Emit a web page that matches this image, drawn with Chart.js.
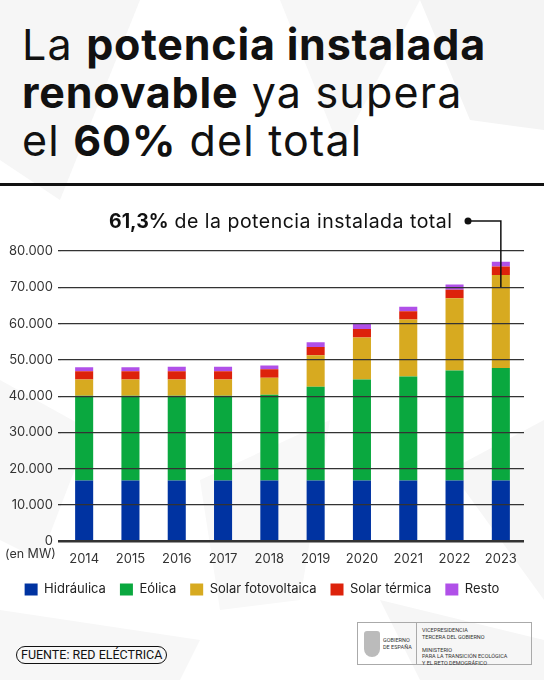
<!DOCTYPE html>
<html>
<head>
<meta charset="utf-8">
<script src="https://cdn.jsdelivr.net/npm/chart.js@4.4.1/dist/chart.umd.min.js"></script>
<style>
    body { margin: 0; width: 544px; height: 680px; overflow: hidden; background: #fff; position: relative;
           font-family: Inter, "Noto Sans", sans-serif; color: #111; }
    #bg { position: absolute; left: 0; top: 0; }
    #title { position: absolute; left: 22px; top: 20px; margin: 0; font-weight: 400; font-size: 43px;
             line-height: 48px; letter-spacing: 1.2px; color: #111; }
    #title b { font-weight: 700; letter-spacing: 0.8px; }
    #rule { position: absolute; left: 0; top: 183px; width: 544px; height: 3px; background: #111; }
    #wrap { position: absolute; left: 0; top: 0; width: 544px; height: 614px; }
    #note { position: absolute; left: 109px; top: 209px; font-size: 19.5px; letter-spacing: 0.5px; color: #111; white-space: nowrap; }
    #note b { font-weight: 700; letter-spacing: 0; }
    #unit { position: absolute; left: 5px; top: 546px; font-size: 12.5px; color: #333; }
    #src { position: absolute; left: 16px; top: 646px; border: 1.5px solid #111; border-radius: 10px;
           padding: 0 4px 0 4px; font-family: Roboto, sans-serif; font-size: 12.5px; line-height: 16px; color: #111; }
    #logo { position: absolute; left: 357px; top: 622px; width: 173px; height: 41px; border: 1px solid #aaa;
            font-family: Roboto, sans-serif; font-size: 5.5px; color: #333; line-height: 6.5px; }
    #logo .div { position: absolute; left: 58px; top: 0; width: 1px; height: 41px; background: #aaa; }
    #logo .gob { position: absolute; left: 25px; top: 14px; }
    #logo .min { position: absolute; left: 64px; top: 4px; }
    #logo .arms { position: absolute; left: 6px; top: 8px; width: 16px; height: 26px; border-radius: 3px 3px 8px 8px; background: #bbb; }
</style>
</head>
<body>
<svg id="bg" width="544" height="680">
    <polygon points="0,0 140,0 60,200 0,160" fill="#f6f6f6"/>
    <polygon points="280,0 420,0 340,150" fill="#f7f7f7"/>
    <polygon points="420,0 544,0 544,130 470,120" fill="#f4f4f4"/>
    <polygon points="0,380 90,430 40,560 0,540" fill="#f7f7f7"/>
    <polygon points="200,480 330,420 300,600 220,610" fill="#f8f8f8"/>
    <polygon points="450,470 544,420 544,600" fill="#f6f6f6"/>
    <polygon points="0,610 200,640 180,680 0,680" fill="#f7f7f7"/>
    <polygon points="380,600 544,640 544,680 420,680" fill="#f6f6f6"/>
</svg>
<h1 id="title">La <b>potencia instalada</b><br><b>renovable</b> ya supera<br>el <b>60%</b> del total</h1>
<div id="rule"></div>
<div id="wrap"><canvas id="chart"></canvas></div>
<div id="note"><b>61,3%</b> de la potencia instalada total</div>
<div id="unit">(en MW)</div>
<div id="src">FUENTE: RED ELÉCTRICA</div>
<div id="logo">
    <div class="arms"></div>
    <div class="gob">GOBIERNO<br>DE ESPAÑA</div>
    <div class="div"></div>
    <div class="min">VICEPRESIDENCIA<br>TERCERA DEL GOBIERNO<br><br>MINISTERIO<br>PARA LA TRANSICIÓN ECOLÓGICA<br>Y EL RETO DEMOGRÁFICO</div>
</div>
<script>
const years = ['2014', '2015', '2016', '2017', '2018', '2019', '2020', '2021', '2022', '2023'];
const hidraulica = [16800, 16800, 16800, 16800, 16800, 16800, 16800, 16800, 16800, 16800];
const eolica = [23300, 23300, 23300, 23300, 23600, 25800, 27800, 28600, 30300, 31000];
const fotovoltaica = [4500, 4500, 4500, 4500, 4700, 8650, 11600, 15700, 19900, 25600];
const termica = [2300, 2300, 2300, 2300, 2300, 2300, 2300, 2300, 2300, 2300];
const resto = [1050, 1050, 1200, 1200, 1050, 1300, 1400, 1250, 1450, 1350];

const Y_MAX = 80000;
const Y_STEP = 10000;
const NOTE_VALUE = 70000;

// thousands with a dot, as in Spanish
const fmt = (v) => String(v).replace(/\B(?=(\d{3})+(?!\d))/g, '.');

// ── Annotation leader line ───────────────────────────────────────────────
const leader = {
    id: 'leader',
    afterDraw(chart) {
        const { ctx, scales } = chart;
        const x = scales.x.getPixelForValue(years.length - 1);
        const y = scales.y.getPixelForValue(NOTE_VALUE);
        const yTop = 221;
        const xDot = 468;
        ctx.save();
        ctx.strokeStyle = '#111';
        ctx.lineWidth = 1.5;
        ctx.beginPath();
        ctx.moveTo(xDot, yTop);
        ctx.lineTo(x, yTop);
        ctx.lineTo(x, y);
        ctx.stroke();
        ctx.fillStyle = '#111';
        ctx.beginPath();
        ctx.arc(xDot, yTop, 3.5, 0, Math.PI * 2);
        ctx.fill();
        ctx.restore();
    },
};

const series = [
    ['Hidráulica', hidraulica, '#0033a1'],
    ['Eólica', eolica, '#0aa83f'],
    ['Solar fotovoltaica', fotovoltaica, '#d7aa20'],
    ['Solar térmica', termica, '#dd220b'],
    ['Resto', resto, '#b050e8'],
];

new Chart(document.getElementById('chart'), {
    type: 'bar',
    data: {
        labels: years,
        datasets: series.map(([label, data, color]) => ({
            label,
            data,
            backgroundColor: color,
            borderWidth: 0,
            barPercentage: 0.39,
            categoryPercentage: 1,
        })),
    },
    options: {
        responsive: true,
        maintainAspectRatio: false,
        animation: false,
        layout: { padding: { top: 251, left: 0, right: 20, bottom: 8 } },
        plugins: {
            tooltip: { enabled: false },
            legend: {
                position: 'bottom',
                labels: {
                    boxWidth: 13,
                    boxHeight: 12,
                    padding: 14,
                    color: '#222',
                    font: { family: 'Inter', size: 13 },
                },
            },
        },
        scales: {
            x: {
                stacked: true,
                grid: { display: false },
                border: { display: false },
                ticks: { color: '#333', font: { family: 'Inter', size: 13 }, padding: 2 },
            },
            y: {
                stacked: true,
                min: 0,
                max: Y_MAX,
                afterFit(scale) { scale.width = 61; },
                border: { display: false },
                grid: {
                    z: 1,
                    color: '#333',
                    tickLength: 3,
                    lineWidth: (c) => (c.tick && c.tick.value === 0 ? 2.5 : 1.3),
                },
                ticks: {
                    stepSize: Y_STEP,
                    color: '#333',
                    padding: 5,
                    font: { family: 'Inter', size: 13 },
                    callback: (v) => fmt(v),
                },
            },
        },
    },
    plugins: [leader],
});
</script>
</body>
</html>
